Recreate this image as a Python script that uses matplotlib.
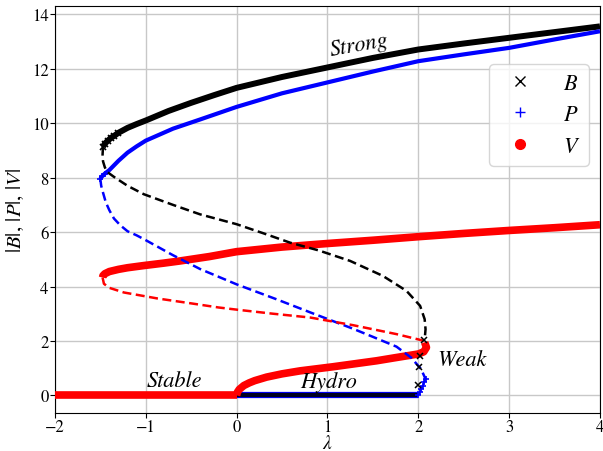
import matplotlib
matplotlib.use("Agg")
import matplotlib.pyplot as plt
from matplotlib.lines import Line2D

plt.rcParams['font.family'] = ['STIXGeneral', 'DejaVu Serif']
plt.rcParams['mathtext.fontset'] = 'stix'

# strong-field branch (stable part)
lam_sB = [-1.47, -1.45, -1.42, -1.38, -1.35, -1.3, -1.2, -1.1, -1.0, -0.75, -0.5, -0.25,
          0.0, 0.5, 1.0, 1.5, 2.0, 2.5, 3.0, 3.5, 4.0]
B_s = [9.14, 9.25, 9.35, 9.47, 9.53, 9.65, 9.83, 9.97, 10.1, 10.45, 10.75, 11.03,
       11.3, 11.7, 12.05, 12.4, 12.71, 12.93, 13.14, 13.35, 13.56]
lam_sP = [-1.5, -1.48, -1.45, -1.4, -1.3, -1.2, -1.1, -1.0, -0.7, -0.4, 0.0, 0.5,
          1.0, 1.5, 2.0, 2.5, 3.0, 3.5, 4.0]
P_s = [7.96, 8.05, 8.15, 8.28, 8.62, 8.92, 9.15, 9.36, 9.8, 10.14, 10.6, 11.1,
       11.5, 11.9, 12.28, 12.53, 12.77, 13.08, 13.38]
lam_sV = [-1.475, -1.47, -1.45, -1.4, -1.3, -1.2, -1.02, -0.8, -0.62, -0.3, 0.0, 0.5,
          1.0, 1.5, 2.0, 2.5, 3.0, 3.5, 4.0]
V_s = [4.33, 4.4, 4.47, 4.55, 4.63, 4.69, 4.77, 4.86, 4.94, 5.1, 5.28, 5.45,
       5.58, 5.7, 5.83, 5.95, 6.06, 6.16, 6.27]

# unstable branch
lam_uB = [-1.47, -1.475, -1.47, -1.45, -1.42, -1.35, -1.2, -1.02, -0.7, -0.4, 0.0, 0.3,
          0.59, 0.9, 1.25, 1.61, 1.87, 2.02, 2.07, 2.08, 2.07]
B_u = [9.14, 8.85, 8.6, 8.38, 8.2, 8.03, 7.7, 7.39, 7.0, 6.65, 6.29, 5.95,
       5.61, 5.33, 4.94, 4.39, 3.84, 3.29, 2.8, 2.43, 2.04]
lam_uP = [-1.5, -1.49, -1.47, -1.44, -1.4, -1.35, -1.28, -1.2, -1.1, -1.02, -0.7, -0.4,
          0.0, 0.44, 0.81, 1.28, 1.5, 1.76, 1.92, 2.03, 2.08]
P_u = [7.96, 7.7, 7.45, 7.1, 6.8, 6.5, 6.25, 6.03, 5.88, 5.74, 5.15, 4.64,
       4.08, 3.53, 3.05, 2.45, 2.15, 1.79, 1.39, 0.97, 0.6]
lam_uV = [-1.475, -1.46, -1.4, -1.24, -0.87, -0.5, -0.2, 0.0, 0.4, 0.81, 1.28, 1.76, 2.02, 2.06]
V_u = [4.33, 4.1, 3.95, 3.78, 3.56, 3.38, 3.23, 3.15, 3.0, 2.86, 2.58, 2.25, 2.04, 2.0]

# trivial state and hydrodynamic branch
lam_0 = [-2.0, 0.0]
zero_0 = [0.0, 0.0]
lam_h = [0.0, 2.0]
zero_h = [0.0, 0.0]
lam_hV = [0.0, 0.01, 0.03, 0.08, 0.14, 0.2, 0.33, 0.5, 0.7, 1.06, 1.54, 1.74, 2.0, 2.06, 2.09, 2.07]
V_h = [0.0, 0.12, 0.22, 0.36, 0.46, 0.54, 0.67, 0.79, 0.9, 1.05, 1.27, 1.38, 1.52, 1.6, 1.76, 1.95]

# weak-field branch
lam_wB = [1.995, 2.01, 2.02, 2.065]
B_w = [0.38, 1.03, 1.45, 2.04]
lam_wP = [2.0, 2.02, 2.035, 2.05, 2.065, 2.08]
P_w = [0.0, 0.12, 0.25, 0.35, 0.48, 0.6]

fig = plt.figure(figsize=(6.03, 4.52), dpi=100)
ax = fig.add_axes([0.091, 0.084, 0.904, 0.9])

band = dict(solid_joinstyle='round', solid_capstyle='butt')

# stable solutions
ax.plot(lam_0, zero_0, color='black', lw=4, zorder=3)
ax.plot(lam_0, zero_0, color='red', lw=5.5, zorder=4, **band)
ax.plot(lam_h, zero_h, color='blue', lw=4.5, zorder=3, **band)
ax.plot(lam_h, zero_h, color='#000022', lw=3, zorder=3, **band)
ax.plot(lam_sB, B_s, color='black', lw=4.3, marker='x', ms=5, mew=1.2,
        markevery=slice(0, 6), zorder=3, **band)
ax.plot(lam_sP, P_s, color='blue', lw=3, marker='+', ms=5, mew=1.2,
        markevery=slice(0, 3), zorder=3, **band)
ax.plot(lam_sV, V_s, color='red', lw=5.5, zorder=3, **band)
ax.plot(lam_hV, V_h, color='red', lw=5.5, zorder=3, **band)
ax.plot(lam_wP, P_w, color='blue', lw=1.2, marker='+', ms=5, mew=1.2, zorder=3)
ax.plot(lam_wB, B_w, color='black', ls='none', marker='x', ms=4.5, mew=1.1, zorder=5)

# unstable solutions
dash = dict(ls=(0, (3.6, 1.8)), lw=1.8, zorder=4)
ax.plot(lam_uB, B_u, color='black', **dash)
ax.plot(lam_uP, P_u, color='blue', **dash)
ax.plot(lam_uV, V_u, color='red', **dash)

ax.text(1.35, 12.9, 'Strong', fontsize=16, style='italic', rotation=10,
        ha='center', va='center')
ax.text(-0.68, 0.56, 'Stable', fontsize=16, style='italic', ha='center', va='center')
ax.text(1.01, 0.52, 'Hydro', fontsize=16, style='italic', ha='center', va='center')
ax.text(2.48, 1.31, 'Weak', fontsize=16, style='italic', ha='center', va='center')

handles = [Line2D([], [], color='black', ls='none', marker='x', ms=7),
           Line2D([], [], color='blue', ls='none', marker='+', ms=7),
           Line2D([], [], color='red', ls='none', marker='o', ms=7)]
ax.legend(handles, ['$B$', '$P$', '$V$'], loc='upper right',
          bbox_to_anchor=(1.0, 0.885), fontsize=16, handletextpad=0.9,
          labelspacing=0.5)

ax.set_xlim(-2, 4)
ax.set_ylim(-0.65, 14.3)
ax.set_xticks([-2, -1, 0, 1, 2, 3, 4])
ax.set_yticks([0, 2, 4, 6, 8, 10, 12, 14])
ax.tick_params(labelsize=12, pad=1)
ax.grid(True, color='#c8c8c8', lw=1)
ax.set_axisbelow(True)
ax.set_xlabel(r'$\lambda$', fontsize=14, labelpad=-1)
ax.set_ylabel(r'$|B|,\,|P|,\,|V|$', fontsize=15, labelpad=4)

fig.savefig('out.png', dpi=100)
